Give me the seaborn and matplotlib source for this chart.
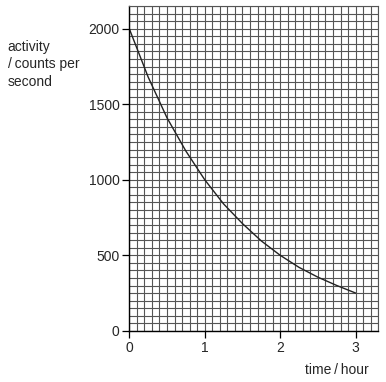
import matplotlib
matplotlib.use("Agg")
import matplotlib.pyplot as plt
import numpy as np
import pandas as pd
import seaborn as sns
from matplotlib.ticker import MultipleLocator

sns.set_style("white")
plt.rcParams.update({"font.family": ["Liberation Sans", "DejaVu Sans"],
                     "font.size": 10,
                     })

# values
time_h = [0, 0.25, 0.5, 0.75, 1.0, 1.25, 1.5, 1.75, 2.0, 2.25, 2.5, 2.75, 3.0]
activity = [2000, 1680, 1410, 1190, 1000, 840, 710, 595, 500, 420, 355, 300, 250]
x_ticks = [0, 1, 2, 3]
y_ticks = [0, 500, 1000, 1500, 2000]

df = pd.DataFrame({"time": time_h, "activity": activity})

fig = plt.figure(figsize=(3.86, 3.82), dpi=100)
ax = fig.add_axes([0.335, 0.134, 0.645, 0.850])

ax.set_xlim(0, 3.3)
ax.set_ylim(0, 2150)
ax.xaxis.set_minor_locator(MultipleLocator(0.1))
ax.yaxis.set_minor_locator(MultipleLocator(50))
ax.set_xticks(x_ticks)
ax.set_yticks(y_ticks)
ax.grid(which="both", color="#555555", linewidth=0.8)
ax.set_axisbelow(True)

sns.lineplot(data=df, x="time", y="activity", color="#222222", linewidth=1.0, ax=ax)

ax.set_xlabel("")
ax.set_ylabel("")
ax.tick_params(which="major", direction="out", length=5, width=0.9, color="black",
               labelsize=10, pad=2, left=True, bottom=True)
ax.tick_params(which="minor", length=0)
for side in ["left", "bottom"]:
    ax.spines[side].set_color("black")
    ax.spines[side].set_linewidth(1.0)
for side in ["top", "right"]:
    ax.spines[side].set_color("#555555")
    ax.spines[side].set_linewidth(0.8)

fig.text(0.02, 0.895, "activity\n/\u2009counts per\nsecond", ha="left", va="top",
         fontsize=10, linespacing=1.3)
fig.text(0.955, 0.012, "time\u2009/\u2009hour", ha="right", va="bottom", fontsize=10)

fig.savefig("out.png", dpi=100)
